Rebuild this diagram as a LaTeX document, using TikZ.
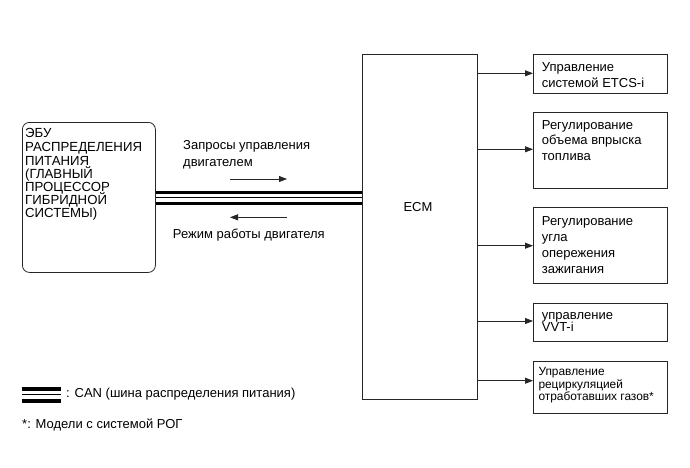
\documentclass[tikz,border=0pt]{standalone}
\usepackage{fontspec}
\setmainfont{Liberation Sans}
\usetikzlibrary{arrows.meta}
\newcommand\myfs[2]{\fontsize{#1}{#2}\selectfont\lineskiplimit=-100pt\lineskip=0pt\relax}
\begin{document}
\begin{tikzpicture}[x=1pt,y=-1pt,
  box/.style={draw=black!85,line width=0.8pt,inner sep=0pt,anchor=north west},
  txt/.style={inner sep=0pt,anchor=west,align=left,font=\myfs{13}{16}},
  small/.style={inner sep=0pt,anchor=west,align=left,font=\myfs{11.9}{12.5}},
  conn/.style={draw=black!85,line width=0.8pt,-{Triangle[length=8pt,width=6pt]}},
  thickbus/.style={line width=3.2pt},
  thinbus/.style={line width=1pt}]
\useasboundingbox (0,0) rectangle (690,467);
% left ECU
\node[box,rounded corners=7pt,minimum width=133pt,minimum height=150pt] (ebu) at (22,122) {};
\node[txt,font=\myfs{13.2}{13.2}] (ebut) at (25,174.6) {ЭБУ\\[0.8pt]РАСПРЕДЕЛЕНИЯ\\ПИТАНИЯ\\(ГЛАВНЫЙ\\ПРОЦЕССОР\\ГИБРИДНОЙ\\СИСТЕМЫ)};
% ECM
\node[box,minimum width=114.5pt,minimum height=345pt] (ecm) at (362,54.3) {};
\node[inner sep=0pt,font=\myfs{13}{14}] (ecmt) at (418,206.7) {ECM};
% right boxes
\node[box,minimum width=134pt,minimum height=38.4pt] (b1) at (533,54.3) {};
\node[txt] (t1) at (541.7,75.2) {Управление\\системой ETCS-i};
\node[box,minimum width=134pt,minimum height=76pt] (b2) at (533,111.7) {};
\node[txt,font=\myfs{13}{15.5}] (t2) at (541.7,140.5) {Регулирование\\объема впрыска\\топлива};
\node[box,minimum width=134pt,minimum height=75.4pt] (b3) at (533,207.3) {};
\node[txt] (t3) at (541.7,244.8) {Регулирование\\угла\\опережения\\зажигания};
\node[box,minimum width=134pt,minimum height=38pt] (b4) at (533,302.7) {};
\node[txt,font=\myfs{13}{12.5}] (t4) at (541.7,322) {управление\\VVT-i};
\node[box,minimum width=134pt,minimum height=52.6pt] (b5) at (533,360.7) {};
\node[small] (t5) at (538.3,385.2) {Управление\\рециркуляцией\\отработавших газов*};
% connectors ECM -> boxes
\coordinate (a1) at (533,73.3);
\coordinate (a2) at (533,149.3);
\coordinate (a3) at (533,245.7);
\coordinate (a4) at (533,321);
\coordinate (a5) at (533,380.7);
\foreach \i in {1,...,5} {\draw[conn] (a\i -| ecm.east) -- (a\i);}
% CAN bus
\coordinate (c1) at (0,192.2);
\coordinate (c2) at (0,197);
\coordinate (c3) at (0,203.3);
\draw[thickbus] (c1 -| ebu.east) -- (c1 -| ecm.west);
\draw[thinbus] (c2 -| ebu.east) -- (c2 -| ecm.west);
\draw[thickbus] (c3 -| ebu.east) -- (c3 -| ecm.west);
% message labels
\node[txt,font=\myfs{13}{16.6}] (req) at (183,155) {Запросы управления\\двигателем};
\coordinate (r1) at (230,179);
\coordinate (r2) at (287,179);
\draw[conn] (r1) -- (r2);
\coordinate (l1) at (287,217.3);
\coordinate (l2) at (230,217.3);
\draw[conn] (l1) -- (l2);
\node[txt] (mode) at (172.7,235) {Режим работы двигателя};
% legend
\coordinate (g1) at (21.7,389.2);
\coordinate (g2) at (60.7,389.2);
\coordinate (g3) at (21.7,394.5);
\coordinate (g4) at (60.7,394.5);
\coordinate (g5) at (21.7,400.8);
\coordinate (g6) at (60.7,400.8);
\draw[line width=3.6pt] (g1) -- (g2);
\draw[thinbus] (g3) -- (g4);
\draw[line width=3.6pt] (g5) -- (g6);
\node[txt] (leg1) at (66,394) {: CAN (шина распределения питания)};
\node[txt] (leg2) at (22,425) {*: Модели с системой РОГ};
\end{tikzpicture}
\end{document}
